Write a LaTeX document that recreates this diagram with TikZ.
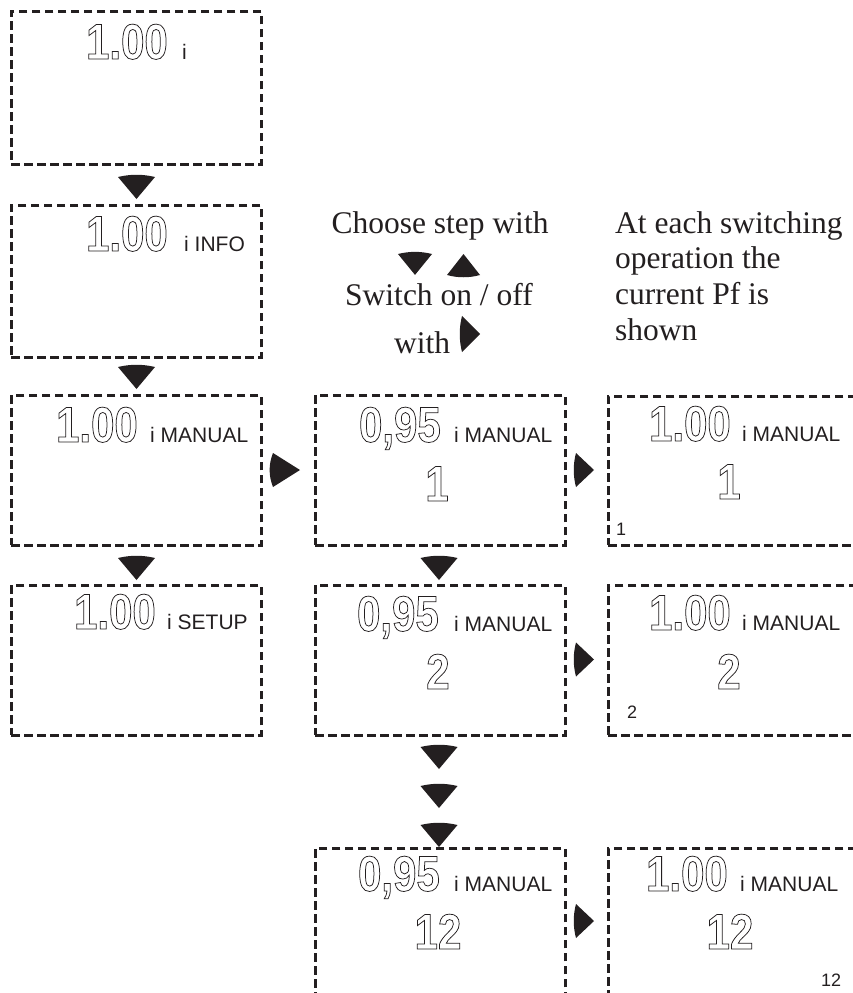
\documentclass[tikz,border=0pt]{standalone}
\usepackage{fontspec}
\setmainfont{Liberation Serif}
\newfontfamily\arialfont{Liberation Sans}
\newfontfamily\lcdfont[FakeStretch=0.84,UprightFont={* Bold}]{Liberation Sans}
\definecolor{ink}{HTML}{231F20}
\newcommand\lcd[1]{\special{pdf:literal direct 1 Tr 0.75 w}#1\special{pdf:literal direct 0 Tr}}
\tikzset{
  screen/.style={draw=ink, line width=2.8pt, dash pattern=on 8.5pt off 4.5pt,
    minimum width=250pt, minimum height=150pt, inner sep=0pt, anchor=north west},
  digits/.style={font=\lcdfont\fontsize{50}{54}\selectfont, inner sep=0pt, text=ink},
  lbl/.style={font=\arialfont\fontsize{21}{24}\selectfont, inner sep=0pt, anchor=base west, text=ink},
  smallnum/.style={font=\arialfont\fontsize{18}{20}\selectfont, inner sep=0pt, anchor=base west, text=ink},
  note/.style={font=\fontsize{31.5}{36}\selectfont, inner sep=0pt, text=ink},
  dtri/.pic={\fill[ink] (-18.5,0) .. controls (-6,-3) and (6,-3) .. (18.5,0) -- (0,22) -- cycle;},
  utri/.pic={\fill[ink] (-16.5,0) .. controls (-6,3) and (6,3) .. (16.5,0) -- (0,-21) -- cycle;},
  rtri/.pic={\fill[ink] (0,-17) -- (18,0) -- (0,17) .. controls (-3,6) and (-3,-6) .. (0,-17) -- cycle;}
}
\begin{document}
\begin{tikzpicture}[x=1pt, y=-1pt]
\path[use as bounding box, clip] (0,0) rectangle (853,993);

% screens
\node[screen, minimum height=153pt] (b1) at (10,10) {};
\node[screen, minimum height=152pt] (b2) at (10,204) {};
\node[screen] (b3) at (10,394) {};
\node[screen] (b4) at (10,584) {};
\node[screen] (m1) at (314,394) {};
\node[screen] (m2) at (314,584) {};
\node[screen, minimum height=175pt] (m3) at (314,847) {};
\node[screen, minimum width=290pt, minimum height=149pt] (r1) at (607,395) {};
\node[screen, minimum width=290pt] (r2) at (607,584) {};
\node[screen, minimum width=290pt, minimum height=175pt] (r3) at (607,847) {};

% left column texts
\node[digits, anchor=base east] (b1v) at (168,59) {\lcd{1.00}};
\node[lbl] (b1l) at (182,59) {i};
\node[digits, anchor=base east] (b2v) at (168,251) {\lcd{1.00}};
\node[lbl] (b2l) at (184,251) {i INFO};
\node[digits, anchor=base east] (b3v) at (138,442) {\lcd{1.00}};
\node[lbl] (b3l) at (150,442) {i MANUAL};
\node[digits, anchor=base east] (b4v) at (156,629) {\lcd{1.00}};
\node[lbl] (b4l) at (167,629) {i SETUP};

% middle column texts
\node[digits, anchor=base east] (m1v) at (441,442) {\lcd{0,95}};
\node[lbl] (m1l) at (454,442) {i MANUAL};
\node[digits, anchor=base] (m1n) at (437,501) {\lcd{1}};
\node[digits, anchor=base east] (m2v) at (439,631) {\lcd{0,95}};
\node[lbl] (m2l) at (454,631) {i MANUAL};
\node[digits, anchor=base] (m2n) at (438,689) {\lcd{2}};
\node[digits, anchor=base east] (m3v) at (440,891) {\lcd{0,95}};
\node[lbl] (m3l) at (454,891) {i MANUAL};
\node[digits, anchor=base] (m3n) at (438,949) {\lcd{12}};

% right column texts
\node[digits, anchor=base east] (r1v) at (731,441) {\lcd{1.00}};
\node[lbl] (r1l) at (742,441) {i MANUAL};
\node[digits, anchor=base] (r1n) at (729,499) {\lcd{1}};
\node[smallnum] (r1s) at (616,535) {1};
\node[digits, anchor=base east] (r2v) at (731,630) {\lcd{1.00}};
\node[lbl] (r2l) at (742,630) {i MANUAL};
\node[digits, anchor=base] (r2n) at (729,689) {\lcd{2}};
\node[smallnum] (r2s) at (627,718) {2};
\node[digits, anchor=base east] (r3v) at (728,891) {\lcd{1.00}};
\node[lbl] (r3l) at (740,891) {i MANUAL};
\node[digits, anchor=base] (r3n) at (730,949) {\lcd{12}};
\node[smallnum] (r3s) at (821,986) {12};

% explanatory notes
\node[note, anchor=base] (t1) at (440,233) {Choose step with};
\node[note, anchor=base] (t2) at (439,305) {Switch on / off};
\node[note, anchor=base west] (t3) at (394,353) {with};
\node[note, anchor=base west] (n1) at (615,233) {At each switching};
\node[note, anchor=base west] (n2) at (615,268) {operation the};
\node[note, anchor=base west] (n3) at (615,304) {current Pf is};
\node[note, anchor=base west] (n4) at (615,340) {shown};

% key symbols
\pic at (136.5,177) {dtri};
\pic at (136.5,367) {dtri};
\pic at (136.5,558) {dtri};
\pic at (439,558) {dtri};
\pic at (439,747) {dtri};
\pic at (439,786) {dtri};
\pic at (439,825) {dtri};
\pic[xscale=0.92, yscale=0.95] at (415,254) {dtri};
\pic at (463.5,275) {utri};
\pic[xscale=1.5] at (273,470) {rtri};
\pic at (576,470) {rtri};
\pic at (576,659.5) {rtri};
\pic at (576,921) {rtri};
\pic[yscale=1.06] at (462,334) {rtri};
\end{tikzpicture}
\end{document}
